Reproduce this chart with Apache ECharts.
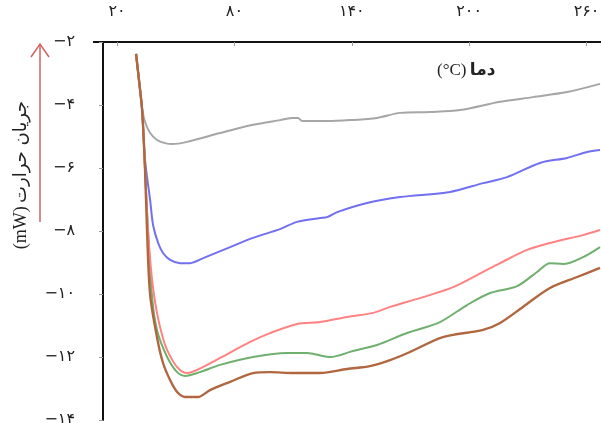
<!DOCTYPE html>
<html>
<head>
<meta charset="utf-8">
<script src="https://cdn.jsdelivr.net/npm/echarts@6.0.0/dist/echarts.min.js"></script>
<style>html,body{margin:0;padding:0;background:#fff;}#c{width:601px;height:423px;}</style>
</head>
<body>
<div id="c"></div>
<script>
// Temperature tick labels (°C)
const xTicks = [20, 80, 140, 200, 260];
// Heat flow (mW) series: [temperature, heat flow]
const grayData = [[29.7,-2.38],[31.2,-3.21],[32.8,-4.10],[34.3,-4.54],[36.9,-4.89],[40.4,-5.11],[44.5,-5.21],[48.1,-5.24],[55.8,-5.17],[72.7,-4.89],[89.5,-4.63],[103.3,-4.48],[110.0,-4.41],[112.5,-4.41],[114.6,-4.51],[127.4,-4.51],[139.1,-4.48],[152.9,-4.41],[164.7,-4.25],[180.0,-4.22],[195.3,-4.16],[215.8,-3.90],[232.7,-3.75],[250.0,-3.59],[266.9,-3.33]];
const blueData = [[29.7,-2.38],[31.2,-3.21],[32.8,-4.16],[34.3,-5.75],[36.9,-7.02],[38.4,-7.81],[41.0,-8.38],[43.5,-8.70],[47.1,-8.92],[52.2,-9.02],[57.3,-9.02],[64.0,-8.86],[77.8,-8.51],[89.5,-8.22],[103.3,-7.94],[112.0,-7.71],[123.8,-7.59],[127.4,-7.56],[132.5,-7.40],[147.8,-7.11],[164.7,-6.92],[190.2,-6.76],[207.1,-6.48],[219.4,-6.29],[236.2,-5.84],[250.0,-5.68],[260.3,-5.49],[266.9,-5.43]];
const redData = [[29.7,-2.38],[31.2,-3.21],[32.8,-4.16],[34.3,-6.06],[35.8,-7.97],[37.9,-9.56],[40.4,-10.60],[43.0,-11.30],[45.6,-11.78],[50.7,-12.32],[55.8,-12.51],[60.9,-12.41],[72.7,-12.03],[88.0,-11.52],[98.2,-11.24],[112.0,-10.95],[123.8,-10.89],[137.6,-10.73],[150.9,-10.60],[159.6,-10.41],[176.4,-10.10],[191.8,-9.78],[204.0,-9.40],[215.8,-9.02],[229.6,-8.60],[241.3,-8.38],[258.2,-8.13],[266.9,-7.97]];
const greenData = [[29.7,-2.38],[31.2,-3.21],[32.8,-4.16],[34.3,-6.06],[35.8,-7.97],[37.9,-10.10],[40.4,-11.14],[45.6,-12.00],[50.7,-12.48],[54.8,-12.60],[62.4,-12.48],[72.7,-12.25],[89.5,-12.00],[106.9,-11.87],[117.1,-11.87],[128.9,-12.00],[140.6,-11.81],[152.9,-11.62],[168.2,-11.24],[185.1,-10.89],[198.9,-10.35],[210.7,-9.97],[224.5,-9.75],[234.7,-9.30],[241.3,-9.02],[248.0,-9.05],[258.2,-8.83],[266.9,-8.51]];
const brownData = [[29.7,-2.38],[31.2,-3.21],[32.8,-4.16],[34.3,-6.06],[35.3,-7.97],[36.9,-10.03],[40.4,-11.37],[43.5,-12.19],[47.1,-12.73],[50.7,-13.11],[54.8,-13.27],[61.4,-13.27],[67.5,-13.05],[77.8,-12.79],[89.5,-12.51],[98.2,-12.48],[110.0,-12.51],[123.8,-12.51],[137.6,-12.38],[149.3,-12.29],[159.6,-12.10],[169.8,-11.84],[186.6,-11.37],[207.1,-11.14],[215.8,-10.92],[227.5,-10.41],[241.3,-9.81],[255.2,-9.46],[266.9,-9.17]];

function fa(n) {
  return String(n).replace('-', '\u2212').replace(/\d/g, d => '۰۱۲۳۴۵۶۷۸۹'[+d]);
}

const chart = echarts.init(document.getElementById('c'), null, {renderer: 'canvas'});
const mk = (data, color, w) => ({
  type: 'line', data: data, showSymbol: false, smooth: 0.3,
  lineStyle: {color: color, width: w}, silent: true
});
chart.setOption({
  animation: false,
  backgroundColor: '#fff',
  grid: {left: 103, right: 0, top: 42, bottom: 3, containLabel: false, outerBoundsMode: 'none'},
  xAxis: {
    type: 'value', position: 'top', min: 12.8, max: 267.4,
    axisLine: {show: true, lineStyle: {color: '#111', width: 2}},
    axisTick: {show: true, inside: true, length: 4, customValues: xTicks, lineStyle: {color: '#999'}},
    axisLabel: {customValues: xTicks, formatter: v => fa(v), margin: 22, fontFamily: 'DejaVu Sans', fontSize: 16, color: '#222'},
    splitLine: {show: false}
  },
  yAxis: {
    type: 'value', min: -14, max: -2, interval: 2,
    axisLine: {show: true, onZero: false, lineStyle: {color: '#111', width: 2}},
    axisTick: {show: true, length: 4, lineStyle: {color: '#999'}},
    axisLabel: {formatter: v => fa(v), margin: 28, fontFamily: 'DejaVu Sans', fontSize: 16, color: '#222'},
    splitLine: {show: false}
  },
  series: [
    mk(grayData, '#a6a6a6', 2),
    mk(blueData, '#7070f0', 2),
    mk(greenData, '#6fb06f', 2),
    mk(redData, '#ff8282', 2),
    mk(brownData, '#b0673f', 2.4)
  ],
  graphic: [
    {
      type: 'line', shape: {x1: 93, y1: 42, x2: 104, y2: 42},
      style: {stroke: '#111', lineWidth: 2}
    },
    {
      type: 'text', left: 437, top: 62,
      style: {
        text: '{a|(°C)} {b|دما}',
        rich: {
          a: {fontFamily: 'Liberation Serif', fontSize: 17, fill: '#222'},
          b: {fontFamily: 'DejaVu Sans', fontWeight: 'bold', fontSize: 17, fill: '#222'}
        }
      }
    },
    {
      type: 'text', x: 21, y: 175, rotation: Math.PI / 2,
      style: {
        text: '{a|(mW)} {b|جریان حرارت}',
        align: 'center', verticalAlign: 'middle',
        rich: {
          a: {fontFamily: 'Liberation Serif', fontSize: 18, fill: '#222'},
          b: {fontFamily: 'DejaVu Sans', fontSize: 18, fill: '#222'}
        }
      }
    },
    {
      type: 'polyline',
      shape: {points: [[40, 222], [40, 44]]},
      style: {stroke: '#d06464', lineWidth: 1.5, fill: null}
    },
    {
      type: 'polyline',
      shape: {points: [[31, 57], [40, 44], [49, 57]]},
      style: {stroke: '#d06464', lineWidth: 1.5, fill: null}
    }
  ]
});
</script>
</body>
</html>
